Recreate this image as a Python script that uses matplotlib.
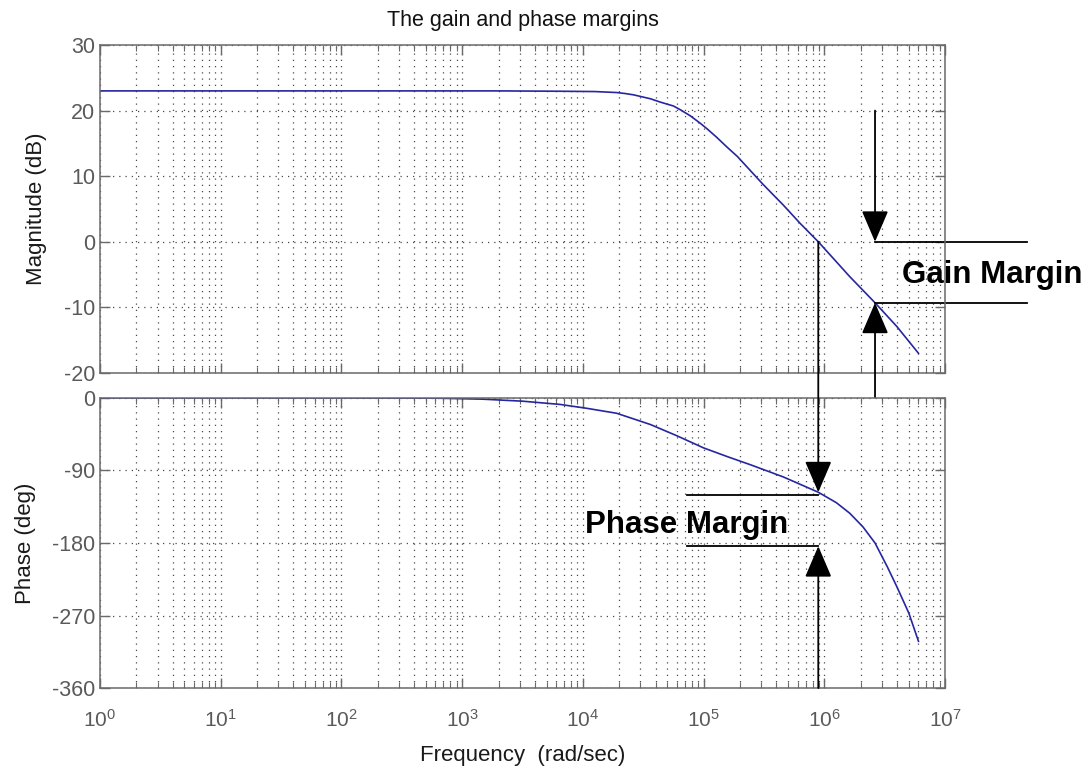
import numpy as np
import matplotlib
matplotlib.use("Agg")
import matplotlib.pyplot as plt
from matplotlib.ticker import FixedLocator, NullFormatter

plt.rcParams['font.family'] = ['Liberation Sans', 'DejaVu Sans']
plt.rcParams['axes.unicode_minus'] = False
plt.rcParams['mathtext.fontset'] = 'custom'
plt.rcParams['mathtext.rm'] = 'Liberation Sans'
plt.rcParams['mathtext.it'] = 'Liberation Sans'

# ---- data (log10 of frequency in rad/sec) ----
mag_logw = [0.0, 1.0, 2.0, 3.0, 3.31, 3.8, 4.1, 4.28, 4.35, 4.42, 4.56, 4.64, 4.75,
            4.81, 4.89, 4.97, 5.03, 5.11, 5.19, 5.28, 5.33, 5.41, 5.49, 5.58, 5.66,
            5.80, 5.95, 6.21, 6.42, 6.60, 6.78]
mag_db = [23.0, 23.0, 23.0, 23.0, 23.0, 22.95, 22.9, 22.75, 22.6, 22.4, 21.8, 21.3, 20.7,
          20.1, 19.2, 18.1, 17.2, 15.9, 14.5, 13.0, 12.0, 10.4, 8.8, 7.1, 5.6,
          2.8, 0.0, -5.3, -9.3, -12.9, -17.0]

ph_logw = [0.0, 1.0, 2.0, 2.8, 3.17, 3.5, 3.81, 4.03, 4.28, 4.56, 4.78, 5.0,
           5.2, 5.39, 5.66, 5.95, 6.1, 6.21, 6.32, 6.42, 6.52, 6.60, 6.70, 6.78]
ph_deg = [0.0, 0.0, 0.0, -0.3, -1.5, -4.0, -8.0, -12.8, -19.0, -33.0, -47.0, -62.0,
          -73.0, -83.0, -98.0, -117.0, -130.0, -143.0, -160.0, -180.0, -209.0, -234.0,
          -267.0, -302.0]

decades = list(range(0, 8))
mag_ticks = [30, 20, 10, 0, -10, -20]
ph_ticks = [0, -90, -180, -270, -360]

title = "The gain and phase margins"
xlabel = "Frequency  (rad/sec)"
mag_label = "Magnitude (dB)"
ph_label = "Phase (deg)"

# margin annotation values
w_gc = 10 ** 5.95      # gain crossover
w_pc = 10 ** 6.42      # phase crossover
gm_db = -9.3           # magnitude at phase crossover
gm_top_db = 0.0
pm_deg = -117.0        # phase at gain crossover
pm_line_deg = -120.0
pm_low_deg = -184.0
w_gm_line_end = 10 ** 7.68
w_pm_line_start = 10 ** 4.86
gm_arrow_top = 20.0

mag_w = [10 ** v for v in mag_logw]
ph_w = [10 ** v for v in ph_logw]
major_x = [10.0 ** d for d in decades]
minor_x = [m * 10.0 ** d for d in decades[:-1] for m in range(2, 10)]

fig = plt.figure(figsize=(10.87, 7.69), dpi=100)
ax1 = fig.add_axes([0.092, 0.515, 0.7774, 0.4265])
ax2 = fig.add_axes([0.092, 0.1053, 0.7774, 0.3772])

curve_color = '#2626a0'
frame_color = '#6a6a6a'
tick_color = '#5a5a5a'
label_color = '#1a1a1a'
grid_kw = dict(color='#4a4a4a', linestyle=(0, (1, 4)), linewidth=0.9)

for ax in (ax1, ax2):
    ax.set_xscale('log')
    ax.set_xlim(1, 1e7)
    ax.xaxis.set_major_locator(FixedLocator(major_x))
    ax.xaxis.set_minor_locator(FixedLocator(minor_x))
    ax.xaxis.set_minor_formatter(NullFormatter())
    ax.grid(True, which='major', axis='both', **grid_kw)
    ax.grid(True, which='minor', axis='x', **grid_kw)
    ax.tick_params(which='both', direction='in', top=True, right=True,
                   colors=frame_color, labelcolor=tick_color, labelsize=15.5)
    ax.tick_params(which='major', length=7, width=1)
    ax.tick_params(which='minor', length=4, width=0.8)
    for s in ax.spines.values():
        s.set_color(frame_color)
        s.set_linewidth(1.1)

ax1.plot(mag_w, mag_db, color=curve_color, linewidth=1.2)
ax1.set_ylim(-20, 30)
ax1.set_yticks(mag_ticks)
ax1.tick_params(axis='x', labelbottom=False)
ax1.set_ylabel(mag_label, fontsize=16, color=label_color, labelpad=12)
ax1.set_title(title, fontsize=15.5, color='#111111', pad=14)

ax2.plot(ph_w, ph_deg, color=curve_color, linewidth=1.2)
ax2.set_ylim(-360, 0)
ax2.set_yticks(ph_ticks)
ax2.set_xticklabels([r'$\mathdefault{10^{%d}}$' % d for d in decades])
ax2.set_xlabel(xlabel, fontsize=16, color=label_color, labelpad=10)
ax2.set_ylabel(ph_label, fontsize=16, color=label_color, labelpad=11)
ax2.tick_params(axis='x', pad=15, labelsize=15)

# ---- margin annotations ----
arrow_kw = dict(arrowstyle='-|>,head_length=1.4,head_width=0.6', color='black',
                lw=1.3, mutation_scale=14, shrinkA=0, shrinkB=0)
line_kw = dict(color='black', linewidth=1.3, clip_on=False)

# gain margin: arrow down to 0 dB, arrow up from phase -180 to magnitude at w_pc
ax1.annotate('', xy=(w_pc, gm_top_db), xytext=(w_pc, gm_arrow_top), xycoords='data',
             textcoords='data', arrowprops=arrow_kw, annotation_clip=False)
ax1.annotate('', xy=(w_pc, gm_db), xycoords='data', xytext=(w_pc, -180),
             textcoords=ax2.transData, arrowprops=arrow_kw, annotation_clip=False)
ax1.plot([w_pc, w_gm_line_end], [gm_top_db, gm_top_db], **line_kw)
ax1.plot([w_pc, w_gm_line_end], [gm_db, gm_db], **line_kw)
ax1.text(10 ** 6.645, -6.3, "Gain Margin", fontsize=22.5, fontweight='bold',
         ha='left', va='baseline', clip_on=False)

# phase margin: arrow from 0 dB down to phase curve, arrow up from bottom to -184
ax2.annotate('', xy=(w_gc, pm_deg), xycoords='data', xytext=(w_gc, 0),
             textcoords=ax1.transData, arrowprops=arrow_kw, annotation_clip=False)
ax2.annotate('', xy=(w_gc, pm_low_deg), xytext=(w_gc, -360), xycoords='data',
             textcoords='data', arrowprops=arrow_kw, annotation_clip=False)
ax2.plot([w_pm_line_start, w_gc], [pm_line_deg, pm_line_deg], **line_kw)
ax2.plot([w_pm_line_start, w_gc], [pm_low_deg, pm_low_deg], **line_kw)
ax2.text(10 ** 4.02, -167.0, "Phase Margin", fontsize=22.5, fontweight='bold',
         ha='left', va='baseline', clip_on=False)

fig.savefig('out.png', dpi=100)
